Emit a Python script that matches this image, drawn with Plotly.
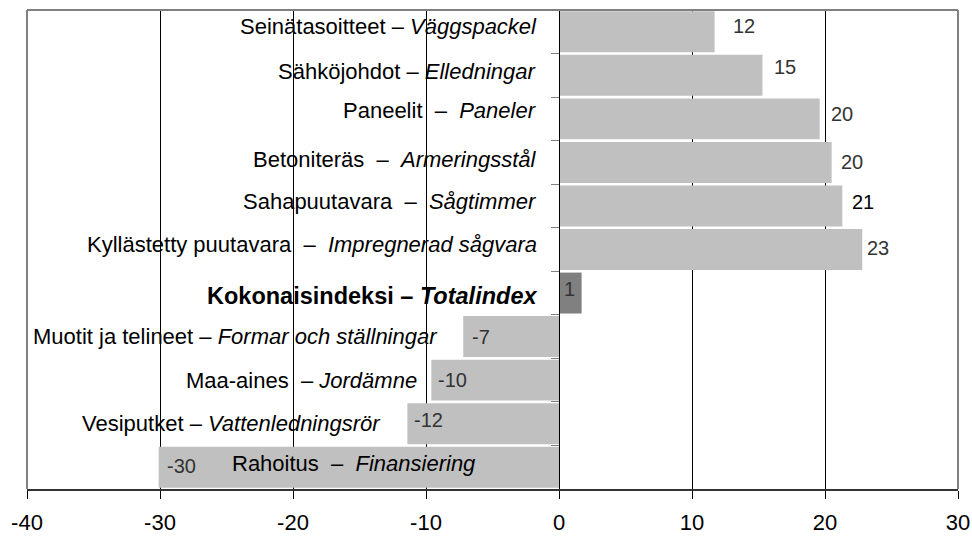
import plotly.graph_objects as go

# ---- data ----
fi_names = ["Seinätasoitteet", "Sähköjohdot", "Paneelit", "Betoniteräs", "Sahapuutavara",
            "Kyllästetty puutavara", "Kokonaisindeksi", "Muotit ja telineet", "Maa-aines",
            "Vesiputket", "Rahoitus"]
sv_names = ["Väggspackel", "Elledningar", "Paneler", "Armeringsstål", "Sågtimmer",
            "Impregnerad sågvara", "Totalindex", "Formar och ställningar", "Jordämne",
            "Vattenledningsrör", "Finansiering"]
values = [11.7, 15.3, 19.6, 20.5, 21.3, 22.8, 1.7, -7.2, -9.6, -11.4, -30.1]
value_labels = ["12", "15", "20", "20", "21", "23", "1", "-7", "-10", "-12", "-30"]
x_ticks = [-40, -30, -20, -10, 0, 10, 20, 30]

# ---- styles ----
NB = "\u00a0"
separators = [" – ", " – ", NB + " – " + NB, NB + " – " + NB, NB + " – " + NB,
              NB + " – " + NB, " – ", " – ", NB + " – ", " – ", NB + " – " + NB]
bar_colors = ["#C0C0C0"] * 6 + ["#808080"] + ["#C0C0C0"] * 4
val_colors = ["#333333"] * 4 + ["#000000"] + ["#333333"] * 6
cat_on_bar = [False] * 7 + [True, True, True, False]
cat_xshift = [-20] * 7 + [-23, -12, -24, -81]
cat_yshift = [5, 4, 8, 3, 4, 5, -3, 0, 0, 0, 4]
val_inside = [False] * 6 + [True] * 5
val_xshift = [16, 10, 9, 7, 8, 3, 3, 7, 5, 5, 6]
val_yshift = [6, 8, 5, 0, 4, 2, 4, 0, 0, 4, 1]

FONT = "Liberation Sans, Arial, sans-serif"
FS = 22

fig = go.Figure(go.Bar(
    x=values, y=fi_names, orientation="h",
    marker=dict(color=bar_colors, line=dict(width=0)),
    hoverinfo="skip",
))

annotations = []
for i, (f, s, v) in enumerate(zip(fi_names, sv_names, values)):
    txt = f + separators[i] + "<i>" + s + "</i>"
    size = FS
    if f == "Kokonaisindeksi":
        txt = "<b>" + txt + "</b>"
        size = 23.5
    base = v if cat_on_bar[i] else 0
    annotations.append(dict(
        x=base, y=f, xref="x", yref="y", text=txt, showarrow=False,
        xanchor="right", yanchor="middle", xshift=cat_xshift[i], yshift=cat_yshift[i],
        font=dict(family=FONT, size=size, color="#000000"),
    ))
    vx = min(v, 0) if val_inside[i] else v
    annotations.append(dict(
        x=vx, y=f, xref="x", yref="y", text=value_labels[i], showarrow=False,
        xanchor="left", yanchor="middle", xshift=val_xshift[i], yshift=val_yshift[i],
        font=dict(family=FONT, size=20, color=val_colors[i]),
    ))

shapes = [
    dict(type="line", xref="paper", yref="paper", x0=0, x1=1, y0=1, y1=1,
         line=dict(color="#808080", width=2), layer="above"),
    dict(type="line", xref="paper", yref="paper", x0=0, x1=0, y0=0, y1=1,
         line=dict(color="#808080", width=2), layer="above"),
    dict(type="line", xref="paper", yref="paper", x0=1, x1=1, y0=0, y1=1,
         line=dict(color="#808080", width=2), layer="above"),
]

xmin, xmax = x_ticks[0], x_ticks[-1]
fig.update_layout(
    width=972, height=536,
    margin=dict(l=27, r=14, t=10, b=47, autoexpand=False),
    paper_bgcolor="white", plot_bgcolor="white",
    showlegend=False, bargap=0.06,
    font=dict(family=FONT, size=FS, color="#000000"),
    xaxis=dict(
        range=[xmin, xmax], tickvals=x_ticks, ticktext=[str(t) for t in x_ticks],
        showgrid=True, gridcolor="#000000", gridwidth=1, zeroline=False,
        showline=True, linecolor="#333333", linewidth=2,
        ticks="outside", ticklen=8, tickcolor="#000000", tickwidth=1,
        ticklabelstandoff=5,
        tickfont=dict(family=FONT, size=FS, color="#000000"),
        fixedrange=True, automargin=False,
    ),
    yaxis=dict(
        type="category", categoryorder="array", categoryarray=fi_names,
        autorange="reversed", anchor="free", position=(0 - xmin) / (xmax - xmin),
        showline=True, linecolor="#000000", linewidth=1,
        ticks="outside", tickson="boundaries", ticklen=8, tickcolor="#808080",
        showticklabels=False, showgrid=False, zeroline=False, fixedrange=True,
        automargin=False,
    ),
    annotations=annotations, shapes=shapes,
)

fig.write_html(
    "out.html",
    config={"displayModeBar": False},
    post_script="document.body.style.margin='0';document.body.style.overflow='hidden';",
)
